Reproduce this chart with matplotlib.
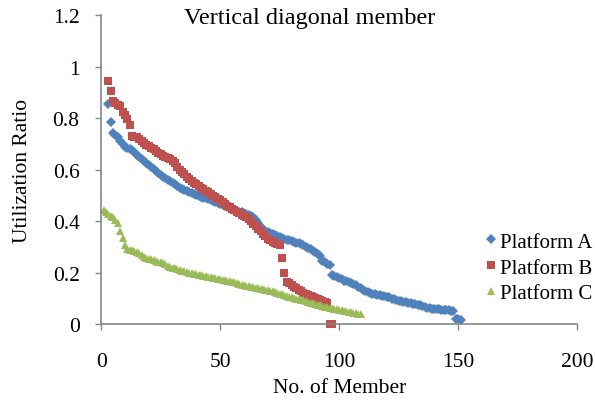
import matplotlib
matplotlib.use("Agg")
import matplotlib.pyplot as plt
import numpy as np

# Utilization ratio of each member, sorted descending
platform_a = [
    0.855, 0.785, 0.742, 0.735, 0.728, 0.712, 0.700, 0.688, 0.683, 0.679,
    0.674, 0.668, 0.657, 0.649, 0.641, 0.632, 0.625, 0.617, 0.609, 0.601,
    0.594, 0.586, 0.580, 0.572, 0.566, 0.561, 0.555, 0.548, 0.542, 0.536,
    0.530, 0.525, 0.520, 0.516, 0.512, 0.508, 0.504, 0.500, 0.497, 0.494,
    0.491, 0.488, 0.485, 0.482, 0.478, 0.475, 0.472, 0.468, 0.464, 0.460,
    0.456, 0.452, 0.448, 0.444, 0.440, 0.437, 0.434, 0.431, 0.428, 0.425,
    0.421, 0.415, 0.405, 0.392, 0.378, 0.368, 0.362, 0.357, 0.352, 0.348,
    0.344, 0.340, 0.337, 0.334, 0.331, 0.328, 0.325, 0.322, 0.319, 0.316,
    0.313, 0.309, 0.305, 0.300, 0.295, 0.290, 0.285, 0.279, 0.272, 0.266,
    0.245, 0.240, 0.235, 0.230, 0.192, 0.186, 0.181, 0.177, 0.173, 0.169,
    0.166, 0.162, 0.158, 0.154, 0.150, 0.145, 0.140, 0.134, 0.128, 0.124,
    0.121, 0.118, 0.116, 0.114, 0.112, 0.110, 0.108, 0.106, 0.103, 0.099,
    0.096, 0.093, 0.090, 0.088, 0.086, 0.084, 0.082, 0.080, 0.078, 0.076,
    0.074, 0.072, 0.069, 0.066, 0.063, 0.061, 0.060, 0.059, 0.058, 0.057,
    0.056, 0.055, 0.054, 0.053, 0.052, 0.050, 0.020, 0.018, 0.017,
]
platform_b = [
    0.944, 0.905, 0.866, 0.860, 0.852, 0.845, 0.822, 0.810, 0.797, 0.772,
    0.730, 0.728, 0.725, 0.718, 0.710, 0.702, 0.697, 0.690, 0.684, 0.678,
    0.672, 0.666, 0.660, 0.652, 0.647, 0.643, 0.640, 0.634, 0.625, 0.608,
    0.598, 0.590, 0.582, 0.572, 0.563, 0.556, 0.549, 0.542, 0.536, 0.530,
    0.524, 0.517, 0.511, 0.505, 0.499, 0.493, 0.487, 0.481, 0.474, 0.467,
    0.460, 0.454, 0.448, 0.442, 0.436, 0.430, 0.425, 0.420, 0.415, 0.408,
    0.400, 0.390, 0.380, 0.370, 0.360, 0.350, 0.340, 0.332, 0.325, 0.320,
    0.315, 0.311, 0.307, 0.258, 0.198, 0.165, 0.158, 0.150, 0.144, 0.138,
    0.132, 0.127, 0.122, 0.118, 0.113, 0.109, 0.105, 0.101, 0.097, 0.093,
    0.089, 0.085, 0.080, 0.002, 0.000,
]
platform_c = [
    0.443, 0.436, 0.428, 0.421, 0.414, 0.404, 0.392, 0.362, 0.335, 0.305,
    0.291, 0.288, 0.286, 0.284, 0.281, 0.276, 0.268, 0.262, 0.258, 0.254,
    0.251, 0.248, 0.245, 0.242, 0.239, 0.236, 0.232, 0.226, 0.222, 0.219,
    0.216, 0.213, 0.210, 0.207, 0.204, 0.202, 0.200, 0.198, 0.196, 0.194,
    0.192, 0.190, 0.188, 0.186, 0.184, 0.182, 0.180, 0.178, 0.176, 0.174,
    0.172, 0.170, 0.168, 0.166, 0.164, 0.162, 0.159, 0.156, 0.153, 0.151,
    0.149, 0.147, 0.145, 0.143, 0.141, 0.139, 0.137, 0.135, 0.133, 0.131,
    0.129, 0.127, 0.124, 0.121, 0.118, 0.115, 0.112, 0.109, 0.106, 0.103,
    0.100, 0.098, 0.096, 0.094, 0.092, 0.089, 0.086, 0.083, 0.080, 0.077,
    0.074, 0.072, 0.070, 0.068, 0.066, 0.064, 0.062, 0.060, 0.058, 0.056,
    0.054, 0.052, 0.050, 0.048, 0.046, 0.044, 0.042, 0.040, 0.038,
]
# first member number of each series
start_a, start_b, start_c = 3, 3, 1

x_ticks = [0, 50, 100, 150, 200]
x_ticklabels = ["0", "50", "100", "150", "200"]
y_ticks = [0, 0.2, 0.4, 0.6, 0.8, 1.0, 1.2]
y_ticklabels = ["0", "0.2", "0.4", "0.6", "0.8", "1", "1.2"]

plt.rcParams["font.family"] = ["Liberation Serif", "DejaVu Serif"]

fig = plt.figure(figsize=(5.95, 4.02), dpi=100)
ax = fig.add_axes([0.170, 0.1915, 0.800, 0.7685])

xa = np.arange(start_a, start_a + len(platform_a))
xb = np.arange(start_b, start_b + len(platform_b))
xc = np.arange(start_c, start_c + len(platform_c))

ax.plot(xa, platform_a, "D", color="#4F81BD", ms=4.6, mew=0, label="Platform A", clip_on=False)
ax.plot(xb, platform_b, "s", color="#C0504D", ms=5.5, mew=0, label="Platform B", clip_on=False)
ax.plot(xc, platform_c, "^", color="#9BBB59", ms=6, mew=0, label="Platform C", clip_on=False)

ax.set_xlim(0, 200)
ax.set_ylim(0, 1.2)
ax.set_xticks(x_ticks)
ax.set_xticklabels(x_ticklabels)
ax.set_yticks(y_ticks)
ax.set_yticklabels(y_ticklabels)
ax.tick_params(axis="both", labelsize=15.5, color="#868686", length=4.5, width=1, direction="out")
ax.tick_params(axis="x", pad=16)
ax.tick_params(axis="y", pad=11)

for side in ["top", "right"]:
    ax.spines[side].set_visible(False)
for side in ["left", "bottom"]:
    ax.spines[side].set_color("#868686")
    ax.spines[side].set_linewidth(1.2)

ax.set_xlabel("No. of Member", fontsize=15.5, va="center")
ax.xaxis.set_label_coords(0.5, -0.207)
ax.set_ylabel("Utilization Ratio", fontsize=15.5, va="center")
ax.yaxis.set_label_coords(-0.166, 0.5)

fig.text(0.521, 0.953, "Vertical diagonal member", fontsize=17.5, ha="center", va="center")

fig.legend(loc="upper left", bbox_to_anchor=(0.815, 0.42), frameon=False,
           fontsize=15, handletextpad=0.1, handlelength=0.6, labelspacing=0.3,
           borderpad=0, borderaxespad=0)

fig.savefig("out.png", dpi=100)
